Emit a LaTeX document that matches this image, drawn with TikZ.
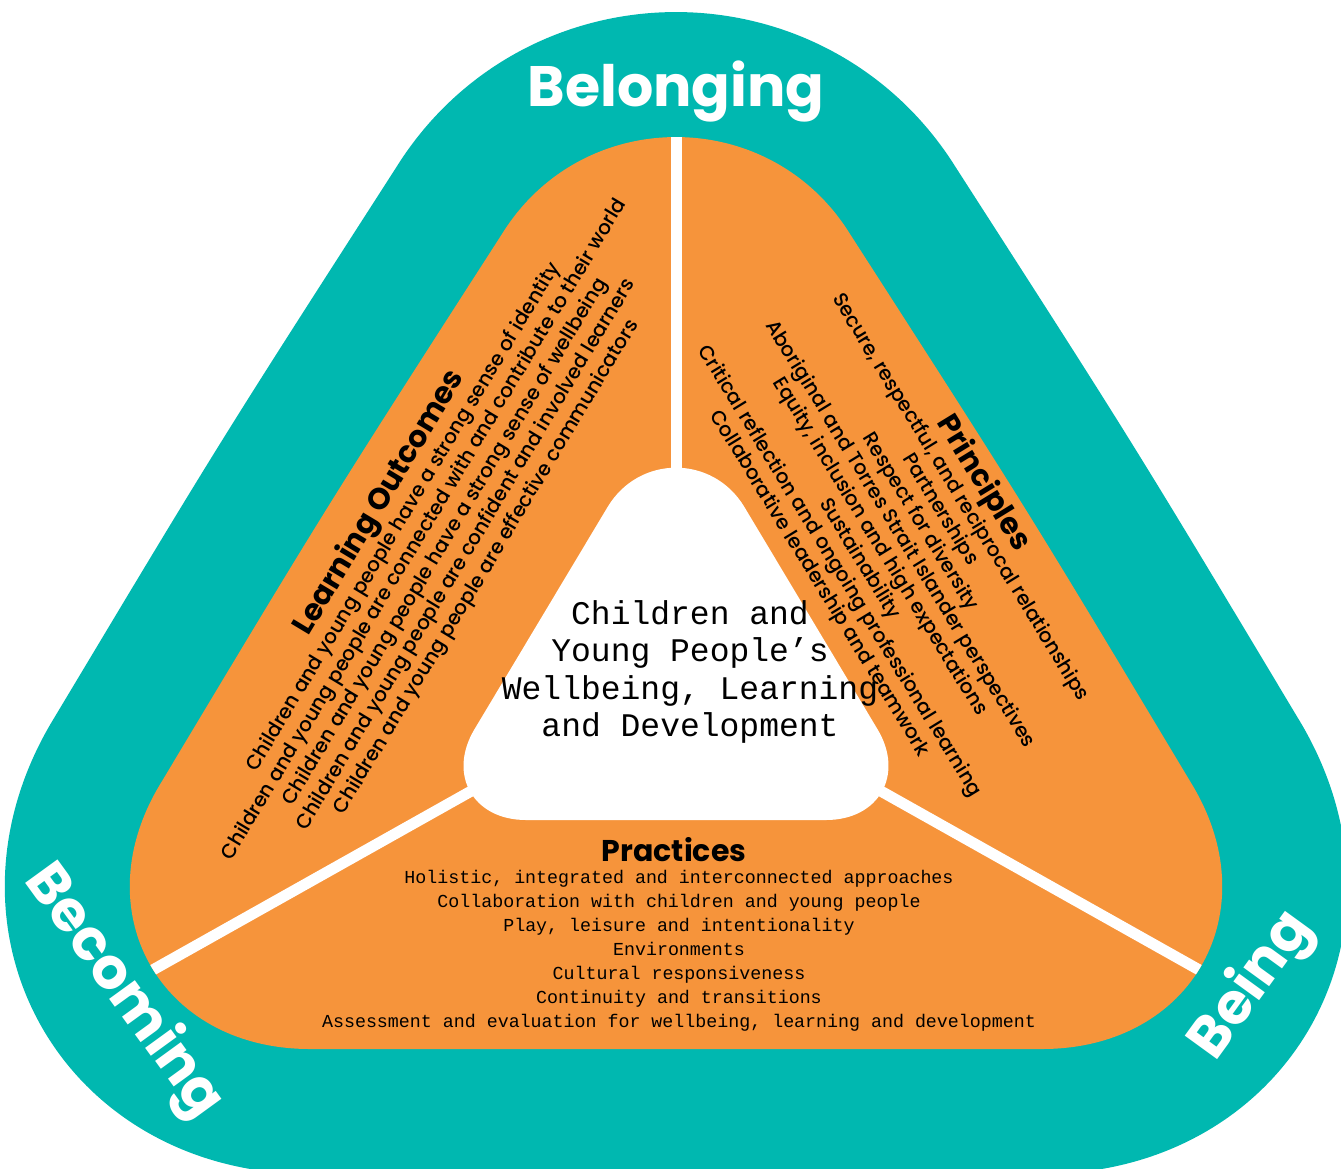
\documentclass[tikz,border=0pt]{standalone}
\usepackage{fontspec}
\newfontfamily\pop{Poppins}
\newfontfamily\popm[UprightFont={* Medium}]{Poppins}
\newfontfamily\mono{Liberation Mono}
\usetikzlibrary{calc}
\definecolor{tealband}{RGB}{0,184,176}
\definecolor{orng}{RGB}{246,148,59}
\begin{document}
\begin{tikzpicture}[x=1pt,y=-1pt,
  bandlabel/.style={text=white,inner sep=0pt,font=\pop\bfseries\fontsize{57}{66}\selectfont},
  sectitle/.style={inner sep=0pt,font=\pop\bfseries\fontsize{30}{34}\selectfont},
  secline/.style={inner sep=0pt,font=\popm\fontsize{20}{23}\selectfont},
  monoblock/.style={inner sep=0pt,align=center},
  sep/.style={white,line width=11pt}
]
\useasboundingbox (0,0) rectangle (1341,1168);
% outer (orange) rounded triangle
\coordinate (VA) at (676,-47);
\coordinate (VL) at (-4,1049);
\coordinate (VR) at (1356,1049);
\coordinate (Lt) at (502,234);
\coordinate (Lb) at (161.5,782);
\coordinate (Bl) at (310,1049);
\coordinate (Br) at (1042,1049);
\coordinate (Rb) at (1190.5,782);
\coordinate (Rt) at (850,234);
\def\orangepath{(Lt) .. controls ($(Lt)!0.5!(Lb)+(-6,0)$) .. (Lb) .. controls ($(Lb)!0.48!(VL)$) and ($(Bl)!0.48!(VL)$) .. (Bl) -- (Br) .. controls ($(Br)!0.48!(VR)$) and ($(Rb)!0.48!(VR)$) .. (Rb) .. controls ($(Rb)!0.5!(Rt)+(6,0)$) .. (Rt) .. controls ($(Rt)!0.46!(VA)$) and ($(Lt)!0.46!(VA)$) .. (Lt) -- cycle}
\draw[tealband,line width=250pt,line join=round] \orangepath;
\fill[orng] \orangepath;
% separators
\coordinate (C) at (676,676);
\coordinate (Stop) at (676,0);
\coordinate (Sleft) at (-20,1067);
\coordinate (Sright) at (1372,1067);
\begin{scope}
\clip \orangepath;
\draw[sep] (C) -- (Stop);
\draw[sep] (C) -- (Sleft);
\draw[sep] (C) -- (Sright);
\end{scope}
% inner white rounded triangle
\coordinate (IA) at (676,393);
\coordinate (IL) at (420,820);
\coordinate (IR) at (932,820);
\coordinate (ILt) at (607.6,507);
\coordinate (ILb) at (474.5,729.2);
\coordinate (IBl) at (526,820);
\coordinate (IBr) at (826,820);
\coordinate (IRb) at (877.5,729.2);
\coordinate (IRt) at (744.4,507);
\fill[white] (ILt) -- (ILb) .. controls ($(ILb)!0.5!(IL)$) and ($(IBl)!0.5!(IL)$) .. (IBl) -- (IBr) .. controls ($(IBr)!0.5!(IR)$) and ($(IRb)!0.5!(IR)$) .. (IRb) -- (IRt) .. controls ($(IRt)!0.46!(IA)$) and ($(ILt)!0.46!(IA)$) .. (ILt) -- cycle;
% band labels
\node[bandlabel,anchor=base] (belonging) at (676,106) {Belonging};
\node[bandlabel,rotate=-54] (becoming) at (123,992) {Becoming};
\node[bandlabel,rotate=54] (being) at (1252,986) {Being};
% Learning Outcomes
\node[sectitle,rotate=59] (lotitle) at (380,503) {Learning Outcomes};
\node[secline,rotate=59] (lo1) at (404.0,517.4) {Children and young people have a strong sense of identity};
\node[secline,rotate=59] (lo2) at (424.7,529.9) {Children and young people are connected with and contribute to their world};
\node[secline,rotate=59] (lo3) at (445.5,542.3) {Children and young people have a strong sense of wellbeing};
\node[secline,rotate=59] (lo4) at (466.2,554.8) {Children and young people are confident and involved learners};
\node[secline,rotate=59] (lo5) at (487.0,567.3) {Children and young people are effective communicators};
% Principles
\node[sectitle,rotate=-58.5] (prtitle) at (983,483.5) {Principles};
\node[secline,rotate=-58.5] (pr1) at (960.0,497.6) {Secure, respectful, and reciprocal relationships};
\node[secline,rotate=-58.5] (pr2) at (939.8,509.9) {Partnerships};
\node[secline,rotate=-58.5] (pr3) at (919.7,522.2) {Respect for diversity};
\node[secline,rotate=-58.5] (pr4) at (899.6,534.6) {Aboriginal and Torres Strait Islander perspectives};
\node[secline,rotate=-58.5] (pr5) at (879.4,546.9) {Equity, inclusion and high expectations};
\node[secline,rotate=-58.5] (pr6) at (859.3,559.2) {Sustainability};
\node[secline,rotate=-58.5] (pr7) at (839.2,571.5) {Critical reflection and ongoing professional learning};
\node[secline,rotate=-58.5] (pr8) at (819.1,583.8) {Collaborative leadership and teamwork};
% Practices
\node[sectitle,anchor=base] (practitle) at (674,861) {Practices};
\node[monoblock,font=\mono\fontsize{18.3}{24}\selectfont] (praclines) at (679,951) {Holistic, integrated and interconnected approaches\\Collaboration with children and young people\\Play, leisure and intentionality\\Environments\\Cultural responsiveness\\Continuity and transitions\\Assessment and evaluation for wellbeing, learning and development};
% centre
\node[monoblock,font=\mono\fontsize{33}{37.5}\selectfont] (centre) at (690,672) {Children and\\Young People’s\\Wellbeing, Learning\\and Development};
\end{tikzpicture}
\end{document}
